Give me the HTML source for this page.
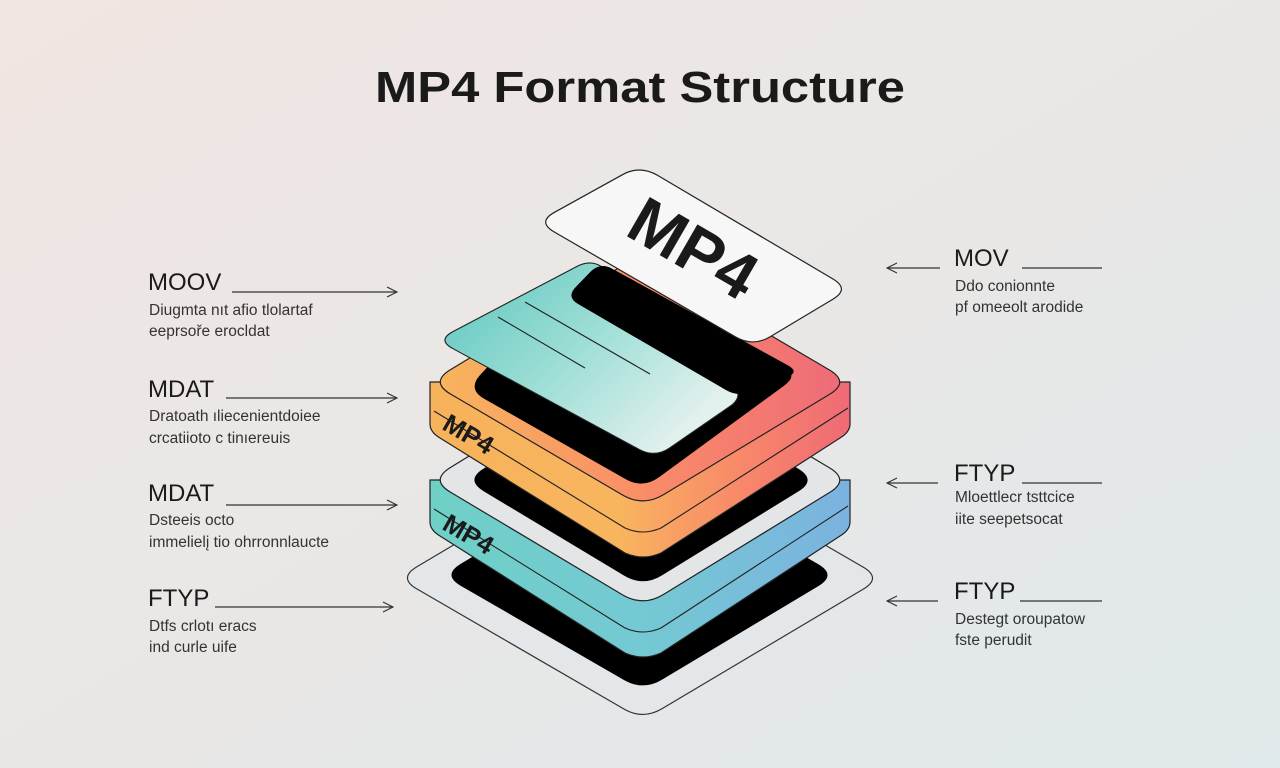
<!DOCTYPE html>
<html><head><meta charset="utf-8"><style>
html,body{margin:0;padding:0;width:1280px;height:768px;overflow:hidden}
svg{display:block}
text{font-family:"Liberation Sans",sans-serif;fill:#1a1a1a}
.h{font-size:24px}
.d{font-size:15.5px;fill:#333}
</style></head><body>
<svg id="s" width="1280" height="768" viewBox="0 0 1280 768" xmlns="http://www.w3.org/2000/svg">
<defs>
<linearGradient id="bg" x1="0" y1="0" x2="1" y2="1"><stop offset="0" stop-color="#f0e6e2"/><stop offset="0.5" stop-color="#e9e7e6"/><stop offset="1" stop-color="#dfe8ea"/></linearGradient>
<linearGradient id="og" x1="0" y1="0" x2="1" y2="0"><stop offset="0" stop-color="#f7b25c"/><stop offset="0.45" stop-color="#f9b45e"/><stop offset="0.75" stop-color="#f8876a"/><stop offset="1" stop-color="#ef6a76"/></linearGradient>
<linearGradient id="otop" x1="0" y1="0" x2="1" y2="0"><stop offset="0" stop-color="#f8b45e"/><stop offset="0.55" stop-color="#f98a68"/><stop offset="1" stop-color="#ee6b78"/></linearGradient>
<linearGradient id="tg" x1="0" y1="0" x2="1" y2="0"><stop offset="0" stop-color="#6fd0c6"/><stop offset="0.5" stop-color="#74c9d3"/><stop offset="1" stop-color="#7bb2e0"/></linearGradient>
<linearGradient id="card" gradientUnits="userSpaceOnUse" x1="500" y1="290" x2="660" y2="455"><stop offset="0" stop-color="#74cfc7"/><stop offset="0.5" stop-color="#a6e1d9"/><stop offset="1" stop-color="#e2f0ee"/></linearGradient>
<marker id="ar" markerWidth="12" markerHeight="12" refX="11" refY="6" orient="auto" markerUnits="userSpaceOnUse"><path d="M1,1 L11,6 L1,11" fill="none" stroke="#333" stroke-width="1.2"/></marker>
</defs>
<rect width="1280" height="768" fill="url(#bg)"/>
<text x="640" y="102" text-anchor="middle" font-size="44" font-weight="bold" textLength="530" lengthAdjust="spacingAndGlyphs">MP4 Format Structure</text>

<g stroke="#333" stroke-width="1.2" fill="none">
<line x1="232" y1="292" x2="397" y2="292" marker-end="url(#ar)"/>
<line x1="226" y1="398" x2="397" y2="398" marker-end="url(#ar)"/>
<line x1="226" y1="505" x2="397" y2="505" marker-end="url(#ar)"/>
<line x1="215" y1="607" x2="393" y2="607" marker-end="url(#ar)"/>
<line x1="940" y1="268" x2="887" y2="268" marker-end="url(#ar)"/>
<line x1="1022" y1="268" x2="1102" y2="268"/>
<line x1="938" y1="483" x2="887" y2="483" marker-end="url(#ar)"/>
<line x1="1022" y1="483" x2="1102" y2="483"/>
<line x1="938" y1="601" x2="887" y2="601" marker-end="url(#ar)"/>
<line x1="1020" y1="601" x2="1102" y2="601"/>
</g>
<text class="h" x="148" y="290">MOOV</text>
<text class="d" x="149" y="315">Diugmta nıt afio tlolartaf</text>
<text class="d" x="149" y="336">eeprsoře erocldat</text>
<text class="h" x="148" y="397">MDAT</text>
<text class="d" x="149" y="421">Dratoath ıliecenientdoiee</text>
<text class="d" x="149" y="443">crcatiioto c tinıereuis</text>
<text class="h" x="148" y="501">MDAT</text>
<text class="d" x="149" y="525">Dsteeis octo</text>
<text class="d" x="149" y="547">immelielį tio ohrronnlaucte</text>
<text class="h" x="148" y="606">FTYP</text>
<text class="d" x="149" y="631">Dtfs crlotı eracs</text>
<text class="d" x="149" y="652">ind curle uife</text>

<text class="h" x="954" y="266">MOV</text>
<text class="d" x="955" y="291">Ddo conionnte</text>
<text class="d" x="955" y="312">pf omeeolt arodide</text>
<text class="h" x="954" y="481">FTYP</text>
<text class="d" x="955" y="502">Mloettlecr tsttcice</text>
<text class="d" x="955" y="524">iite seepetsocat</text>
<text class="h" x="954" y="599">FTYP</text>
<text class="d" x="955" y="624">Destegt oroupatow</text>
<text class="d" x="955" y="645">fste perudit</text>
<g id="stack"></g>
</svg>
<script>
function rr(p,r){var d="",n=p.length;for(var i=0;i<n;i++){var a=p[(i+n-1)%n],b=p[i],c=p[(i+1)%n];
function t(u,v){var dx=u[0]-v[0],dy=u[1]-v[1],l=Math.sqrt(dx*dx+dy*dy),k=Math.min(r,l/2)/l;return [v[0]+dx*k,v[1]+dy*k];}
var s=t(a,b),e=t(c,b);d+=(i==0?"M":"L")+s[0]+","+s[1]+" Q"+b[0]+","+b[1]+" "+e[0]+","+e[1]+" ";}return d+"Z";}
var g=document.getElementById("stack"),NS="http://www.w3.org/2000/svg";
function P(d,fill,stroke,sw){var e=document.createElementNS(NS,"path");e.setAttribute("d",d);e.setAttribute("fill",fill);e.setAttribute("stroke",stroke||"none");e.setAttribute("stroke-width",sw||1.2);e.setAttribute("stroke-linejoin","round");g.appendChild(e);return e;}
function T(x,y,s,txt,rot){var e=document.createElementNS(NS,"text");e.setAttribute("x",x);e.setAttribute("y",y);e.setAttribute("font-size",s);e.setAttribute("font-weight","bold");e.setAttribute("text-anchor","middle");e.setAttribute("fill","#000");e.setAttribute("transform","rotate("+rot+" "+x+" "+y+")");e.textContent=txt;g.appendChild(e);}
function rh(L,B,R){return [L,B,R,[L[0]+R[0]-B[0],L[1]+R[1]-B[1]]];}
function side(L,B,R,h,fill){
 var d="M"+L[0]+","+L[1]+" L"+L[0]+","+(L[1]+h-8)+" Q"+L[0]+","+(L[1]+h)+" "+(L[0]+10)+","+(L[1]+h+6)+" L"+(B[0]-18)+","+(B[1]+h-4)+" Q"+B[0]+","+(B[1]+h+4)+" "+(B[0]+18)+","+(B[1]+h-4)+" L"+(R[0]-10)+","+(R[1]+h+6)+" Q"+R[0]+","+(R[1]+h)+" "+R[0]+","+(R[1]+h-8)+" L"+R[0]+","+R[1]+" Z";
 P(d,fill,"#222",1.2);
 var m=h/2;
 P("M"+(L[0]+4)+","+(L[1]+m+4)+" L"+(B[0]-18)+","+(B[1]+m-4)+" Q"+B[0]+","+(B[1]+m+4)+" "+(B[0]+18)+","+(B[1]+m-4)+" L"+(R[0]-2)+","+(R[1]+m+1),"none","#222",1.1);
}
P(rr(rh([398,578],[643,720],[882,578]),22),"#e4e7e9","#333",1.2);
P(rr(rh([442,575],[643,691],[837,575]),22),"#000");
side([430,480],[643,607],[850,480],50,"url(#tg)");
P(rr(rh([430,480],[643,607],[850,480]),24),"#e3e5e7","#222",1.2);
P(rr(rh([465,480],[643,587],[817,480]),22),"#000");
side([430,382],[643,507],[850,382],50,"url(#og)");
P(rr(rh([430,382],[643,507],[850,382]),24),"url(#otop)","#222",1.2);
// lower black on orange
P(rr([[467,389],[566,283],[800,374],[643,489]],20),"#000");
// teal card
P(rr([[437,340],[593,258],[745,396],[655,458]],18),"url(#card)","#222",1.1);
P("M525,302 L650,374","none","#222",1.1);
P("M498,317 L585,368","none","#222",1.1);
// upper black over card
P(rr([[566,297],[600,262],[800,372],[738,397]],14),"#000");
// white card
P(rr([[537,222],[640,165],[850,289],[753,347]],20),"#f7f7f7","#222",1.2);
T(682,268,66,"MP4",30);
T(464,442,26,"MP4",30);
T(464,542,26,"MP4",30);
</script>
</body></html>
